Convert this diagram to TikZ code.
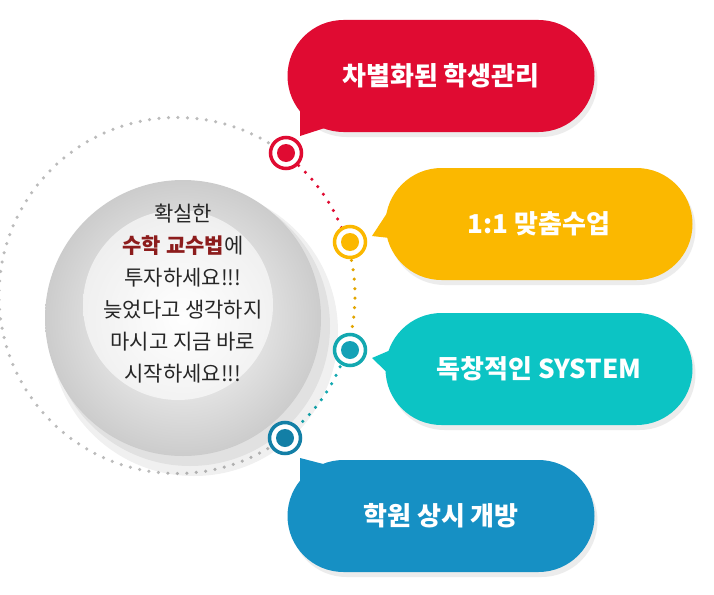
\documentclass[tikz,border=0pt]{standalone}
\usepackage{fontspec}
\setmainfont{Noto Sans CJK KR}
\usetikzlibrary{calc,shadows,shapes.misc}
\definecolor{redc}{HTML}{E00B32}
\definecolor{yelc}{HTML}{FBB800}
\definecolor{tealc}{HTML}{0CC4C4}
\definecolor{bluec}{HTML}{1690C4}
\definecolor{ringtc}{HTML}{13A8B0}
\definecolor{ringbc}{HTML}{137FA6}
\definecolor{wordc}{HTML}{8C1C1C}
\definecolor{dotc}{HTML}{BBBBBB}
\tikzset{
  bubble/.style={rounded rectangle, minimum width=307pt, minimum height=112pt,
    text=white, font=\fontsize{26}{30}\selectfont\bfseries, inner sep=0pt,
    drop shadow={shadow xshift=3pt, shadow yshift=-5pt, opacity=0.15}},
  dots/.style={line width=3.5pt, line cap=round, dash pattern=on 0pt off 9.5pt},
  ring/.style={circle, draw=#1, line width=3.5pt, fill=white, minimum size=31pt, inner sep=0pt},
}
\begin{document}
\begin{tikzpicture}[x=1pt,y=1pt,yscale=-1]
\useasboundingbox[fill=white] (0,0) rectangle (714,594);
\coordinate (c) at (177,295.5);

% dotted track
\draw[dots, dotc] (c) ++(53:178 and -178) arc[start angle=-53, end angle=-307, radius=178];
\draw[dots, redc] (c) ++(-53:178) arc[start angle=-53, end angle=-17.5, radius=178];
\draw[dots, yelc!90!black] (c) ++(-17.5:178) arc[start angle=-17.5, end angle=17.5, radius=178];
\draw[dots, ringtc] (c) ++(17.5:178) arc[start angle=17.5, end angle=53, radius=178];

% sphere
\fill[black, opacity=0.06] (194,332) circle (144);
\fill[black, opacity=0.06] (190,326) circle (140);
\shade[inner color=white, outer color=black!20] (183,318) circle (138);
\shade[inner color=white, outer color=white, opacity=0.6] (178,305) circle (95);
\node[align=center, font=\fontsize{21}{32}\selectfont, text=black!85] (msg) at (183,294)
  {확실한\\{\bfseries\color{wordc}수학 교수법}에\\투자하세요!!!\\늦었다고 생각하지\\마시고 지금 바로\\시작하세요!!!};

% bullets
\node[ring=redc] (r1) at (286,153) {};
\node[ring=yelc] (r2) at (350,242) {};
\node[ring=ringtc] (r3) at (350,350) {};
\node[ring=ringbc] (r4) at (285,438) {};
\fill[redc] (r1) circle (9);
\fill[yelc] (r2) circle (9);
\fill[ringtc!70!bluec] (r3) circle (9);
\fill[ringbc] (r4) circle (9);

% bubbles
\node[bubble, fill=redc] (b1) at (441,76) {차별화된 학생관리};
\node[bubble, fill=yelc] (b2) at (539,224) {1:1 맞춤수업};
\node[bubble, fill=tealc] (b3) at (539,369) {독창적인 SYSTEM};
\node[bubble, fill=bluec] (b4) at (441,516) {학원 상시 개방};

% tails
\coordinate (t1) at (300,136);
\coordinate (t2) at (372,236);
\coordinate (t3) at (372,358);
\coordinate (t4) at (300,458);
\fill[redc] ($(b1.center)+(-141,20)$) -- (t1) -- ($(b1.center)+(-110,50)$) -- cycle;
\fill[yelc] ($(b2.center)+(-146,-20)$) -- (t2) -- ($(b2.center)+(-140,15)$) -- cycle;
\fill[tealc] ($(b3.center)+(-146,-20)$) -- (t3) -- ($(b3.center)+(-140,15)$) -- cycle;
\fill[bluec] ($(b4.center)+(-141,-20)$) -- (t4) -- ($(b4.center)+(-110,-50)$) -- cycle;
\end{tikzpicture}
\end{document}
